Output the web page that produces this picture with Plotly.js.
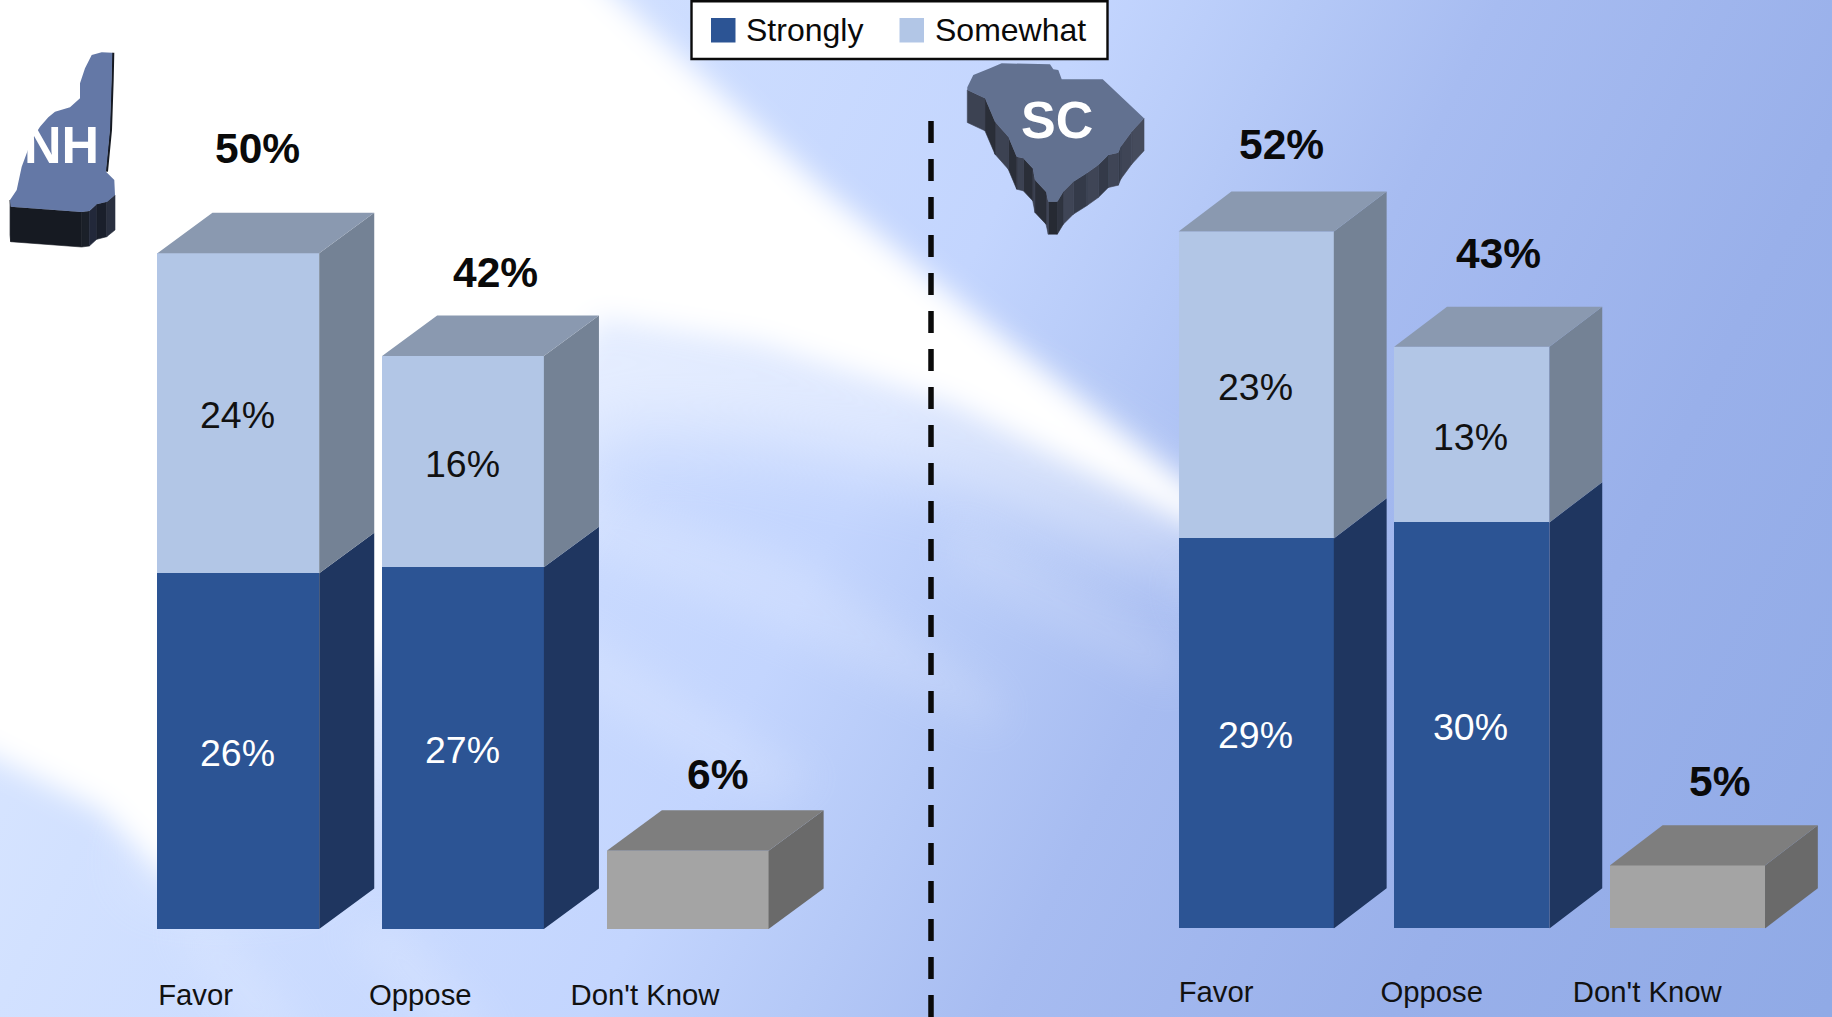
<!DOCTYPE html>
<html>
<head>
<meta charset="utf-8">
<script src="https://cdn.plot.ly/plotly-3.0.1.min.js"></script>
<style>html,body{margin:0;padding:0;overflow:hidden;background:#fff}</style>
</head>
<body>
<div id="chart" style="width:1832px;height:1017px"></div>
<script>
// ---- data ----
const categories = ["Favor", "Oppose", "Don't Know"];
const positions = [0, 1, 2];
const nhStrongly = [26.35, 26.8, null];
const nhSomewhat = [23.7, 15.65, null];
const nhDontKnow = [null, null, 5.8];
const nhTotals = [50, 42, 6];
const scStrongly = [29.1, 30.3, null];
const scSomewhat = [22.9, 13.1, null];
const scDontKnow = [null, null, 4.7];
const scTotals = [52, 43, 5];

// ---- page geometry ----
const W = 1832, H = 1017;
const px = x => x / W;
const py = y => 1 - y / H;

// ---- 3D box sides, computed from the values ----
const barW = 0.72, depthX = 0.245, depthY = 3;
function sidePoly(values, bases) {
  const xs = [], ys = [];
  positions.forEach(i => {
    if (values[i] == null) return;
    const r = i + barW / 2, b = bases[i], t = b + values[i];
    xs.push(r, r + depthX, r + depthX, r, r, null);
    ys.push(b, b + depthY, t + depthY, t, b, null);
  });
  return {x: xs, y: ys};
}
function topPoly(tops) {
  const xs = [], ys = [];
  positions.forEach(i => {
    if (tops[i] == null) return;
    const l = i - barW / 2, r = i + barW / 2, t = tops[i];
    xs.push(l, r, r + depthX, l + depthX, l, null);
    ys.push(t, t, t + depthY, t + depthY, t, null);
  });
  return {x: xs, y: ys};
}
function face(poly, color, xa, ya) {
  return {type: 'scatter', mode: 'lines', x: poly.x, y: poly.y, fill: 'toself', fillcolor: color,
          line: {width: 0, color: color}, hoverinfo: 'skip', showlegend: false, xaxis: xa, yaxis: ya};
}
const FONT = '"Liberation Sans", Arial, sans-serif';
const COL = {strong: '#2c5494', strongSide: '#1f3660', some: '#b2c6e6', someSide: '#748295', someTop: '#8a99b0',
             dk: '#a4a4a4', dkSide: '#6a6a6a', dkTop: '#7e7e7e'};

function panel(strong, some, dk, xa, ya, wid) {
  const zeros = positions.map(() => 0);
  const stackBase = positions.map(i => strong[i] == null ? null : strong[i]);
  const tops = positions.map(i => strong[i] == null ? null : strong[i] + some[i]);
  const bar = (name, y, color) => ({
    type: 'bar', name: name, x: positions, y: y, width: wid, xaxis: xa, yaxis: ya,
    marker: {color: color, line: {width: 0}}, showlegend: false, textposition: 'none'
  });
  return [
    bar('Strongly', strong, COL.strong),
    bar('Somewhat', some, COL.some),
    bar("Don't Know", dk, COL.dk),
    face(sidePoly(strong, zeros), COL.strongSide, xa, ya),
    face(sidePoly(some, stackBase), COL.someSide, xa, ya),
    face(topPoly(tops), COL.someTop, xa, ya),
    face(sidePoly(dk, zeros), COL.dkSide, xa, ya),
    face(topPoly(dk), COL.dkTop, xa, ya)
  ];
}
const traces = [...panel(nhStrongly, nhSomewhat, nhDontKnow, 'x', 'y', barW),
                ...panel(scStrongly, scSomewhat, scDontKnow, 'x2', 'y2', barW)];

// ---- background picture (gradient, light rays, state silhouettes) ----
function z1(p) { return [p[0] / 3, 30 + p[1] / 3]; }      // NH trace coordinates
function z2(p) { return [680 + p[0] / 3, p[1] / 3]; }     // SC trace coordinates
const pts = a => a.map(p => p[0].toFixed(1) + ',' + p[1].toFixed(1)).join(' ');

const nhTop = [[275,75],[305,67],[337,68],[335,150],[330,300],[318,425],[343,450],[345,495],[322,515],[290,523],[268,543],[245,546],[32,530],[30,510],[50,480],[65,410],[80,370],[95,330],[120,290],[145,262],[165,245],[210,232],[240,205],[240,160],[255,115],[265,95]].map(z1);
const nhEdge = [[30,510],[32,530],[245,546],[268,543],[290,523],[320,515],[345,495]].map(z1);
const nhCols = ['#161a22','#161a22','#1b2029','#22283a','#1a1f2b','#2a3040'];
const scTop = [[862,262],[880,225],[930,205],[965,190],[1110,193],[1120,208],[1135,210],[1145,238],[1268,238],[1392,355],[1355,395],[1322,440],[1315,458],[1285,465],[1255,495],[1220,520],[1180,545],[1150,575],[1132,605],[1105,605],[1098,575],[1065,540],[1058,505],[1030,475],[1010,470],[985,410],[945,365],[915,295],[862,270]].map(z2);
const scEdge = scTop.slice(9);
const scCols = ['#454b5c','#3f4556','#343a49','#3f4556','#343a49','#3f4556','#343a49','#3f4556','#2f3440','#262a33','#3f4556','#2a2e38','#3c4252','#2a2e38','#3c4252','#2a2e38','#3c4252','#2a2e38','#3c4252','#262a33'];
function extrude(edge, cols, dy) {
  let s = '';
  for (let i = 0; i < edge.length - 1; i++) {
    const a = edge[i], b = edge[i + 1];
    s += `<polygon points="${pts([a, b, [b[0], b[1] + dy], [a[0], a[1] + dy]])}" fill="${cols[i % cols.length]}" stroke="${cols[i % cols.length]}" stroke-width="0.6"/>`;
  }
  return s;
}
const stops = [[0,'#e2ecff'],[500,'#d2e1ff'],[1100,'#c3d5fe'],[1300,'#b5c9f7'],[1500,'#a7bcf1'],[1900,'#99b0ea'],[2332,'#90aae6']];
const rayMain = [[-120,-120],[500,-120],[620,0],[825,190],[1000,335],[1180,480],[1345,605],[1150,505],[950,405],[760,345],[600,320],[500,480],[300,780],[170,880],[100,810],[-120,700]];
const rayGlow = [[560,280],[800,315],[1050,420],[1280,560],[1150,560],[950,480],[760,440],[600,430],[480,640],[300,880],[130,880]];
const rays = [
  [[560,480],[800,560],[1000,700],[1000,730],[800,640],[560,540]],
  [[560,620],[820,780],[760,800],[560,680]],
  [[950,520],[1180,650],[1180,690],[950,570]],
  [[1180,560],[1350,680],[1350,700],[1180,610]],
  [[170,925],[215,925],[310,1040],[260,1040]],
  [[340,925],[400,925],[500,1040],[440,1040]]
];
const bgSvg = `<svg xmlns="http://www.w3.org/2000/svg" width="${W}" height="${H}" viewBox="0 0 ${W} ${H}">
<defs>
<linearGradient id="g" gradientUnits="userSpaceOnUse" x1="0" y1="0" x2="1865.6" y2="932.8">
${stops.map(s => `<stop offset="${s[0] / 2332}" stop-color="${s[1]}"/>`).join('')}
</linearGradient>
<filter id="b1" x="-20%" y="-20%" width="140%" height="140%"><feGaussianBlur stdDeviation="14"/></filter>
<filter id="b2" x="-30%" y="-30%" width="160%" height="160%"><feGaussianBlur stdDeviation="20"/></filter>
<filter id="b3" x="-30%" y="-30%" width="160%" height="160%"><feGaussianBlur stdDeviation="38"/></filter>
</defs>
<rect width="${W}" height="${H}" fill="url(#g)"/>
<polygon points="${pts(rayGlow)}" fill="#ffffff" opacity="0.5" filter="url(#b3)"/>
<polygon points="${pts(rayMain)}" fill="#ffffff" filter="url(#b1)"/>
${rays.map(r => `<polygon points="${pts(r)}" fill="#ffffff" opacity="0.16" filter="url(#b2)"/>`).join('')}
${extrude(nhEdge, nhCols, 35)}
<polyline points="${pts([[337,68],[335,150],[330,300],[318,425]].map(z1))}" fill="none" stroke="#161a22" stroke-width="2.4" transform="translate(0.8,0)"/>
<polygon points="${pts(nhTop)}" fill="#6478a6"/>
${extrude(scEdge, scCols, 32.5)}
<polygon points="${pts(scTop)}" fill="#627190"/>
</svg>`;
const bgURI = 'data:image/svg+xml;charset=utf-8,' + encodeURIComponent(bgSvg);

// ---- annotations ----
function totals(arr, strong, some, dk, dx, dy, xr, yr) {
  return positions.map(i => ({
    xref: xr, yref: yr, x: i + dx[i],
    y: (strong[i] == null ? dk[i] : strong[i] + some[i]) + dy[i],
    text: arr[i] + '%', showarrow: false, xanchor: 'center', yanchor: 'middle',
    font: {family: FONT, size: 42.5, color: '#0a0a0a', weight: 700}
  }));
}
function innerLabels(values, bases, color, xr, yr) {
  return positions.filter(i => values[i] != null).map(i => ({
    xref: xr, yref: yr, x: i - 0.004, y: bases[i] + values[i] / 2, yshift: -2,
    text: Math.round(values[i]) + '%', showarrow: false, xanchor: 'center', yanchor: 'middle',
    font: {family: FONT, size: 37.5, color: color}
  }));
}
const paperText = (x, y, text, size, color, anchor, bold) => ({
  xref: 'paper', yref: 'paper', x: px(x), y: py(y), text: text, showarrow: false,
  xanchor: anchor, yanchor: 'middle', font: {family: FONT, size: size, color: color, weight: bold ? 700 : 400}
});
const annotations = [
  ...totals(nhTotals, nhStrongly, nhSomewhat, nhDontKnow, [0.086, 0.146, 0.133], [7.78, 6.15, 5.62], 'x', 'y'),
  ...totals(scTotals, scStrongly, scSomewhat, scDontKnow, [0.116, 0.125, 0.148], [6.48, 6.94, 6.25], 'x2', 'y2'),
  ...innerLabels(nhStrongly, positions.map(() => 0), '#ffffff', 'x', 'y'),
  ...innerLabels(nhSomewhat, nhStrongly, '#111111', 'x', 'y'),
  ...innerLabels(scStrongly, positions.map(() => 0), '#ffffff', 'x2', 'y2'),
  ...innerLabels(scSomewhat, scStrongly, '#111111', 'x2', 'y2'),
  paperText(61.5, 145, 'NH', 52, '#ffffff', 'center', true),
  paperText(1057, 120.5, 'SC', 52, '#ffffff', 'center', true),
  paperText(744, 30.5, 'Strongly', 32, '#0a0a0a', 'left', false),
  paperText(933, 30.5, 'Somewhat', 32, '#0a0a0a', 'left', false)
];

// ---- legend box and divider ----
const rectP = (x0, y0, x1, y1, fill, lineColor, lw) => ({
  type: 'rect', xref: 'paper', yref: 'paper', x0: px(x0), x1: px(x1), y0: py(y1), y1: py(y0),
  fillcolor: fill, line: {color: lineColor, width: lw}, layer: 'above'
});
const shapes = [
  {type: 'line', xref: 'paper', yref: 'paper', x0: px(931), x1: px(931), y0: py(121), y1: py(1017),
   line: {color: '#0a0a0a', width: 5.5, dash: '22px,16px'}, layer: 'above'},
  rectP(691.5, 1.2, 1107.5, 59, '#ffffff', '#0a0a0a', 2.4),
  rectP(711, 18, 735.5, 42.5, COL.strong, COL.strong, 0),
  rectP(899.5, 18, 924, 42.5, COL.some, COL.some, 0)
];

// ---- axes ----
const axisFont = {family: FONT, size: 29.3, color: '#111111'};
const xAxis = (domain, center, step, labelShift, standoff) => ({
  domain: domain,
  range: [(domain[0] * W - center) / step, (domain[1] * W - center) / step],
  tickmode: 'array', tickvals: positions.map(i => i + labelShift), ticktext: categories,
  showgrid: false, zeroline: false, showline: false, ticks: '', ticklen: 0,
  tickfont: axisFont, tickangle: 0, ticklabelstandoff: standoff, fixedrange: true
});
const yAxis = (anchor, baseline, perUnit) => ({
  anchor: anchor, domain: [(H - baseline) / H, 1], range: [0, baseline / perUnit],
  visible: false, showgrid: false, zeroline: false, fixedrange: true
});

const layout = {
  width: W, height: H, margin: {l: 0, r: 0, t: 0, b: 0, pad: 0},
  paper_bgcolor: '#ffffff', plot_bgcolor: 'rgba(0,0,0,0)',
  barmode: 'stack', showlegend: false, hovermode: false,
  font: {family: FONT},
  xaxis: xAxis([0, 0.5], 238.3, 224.7, -0.19, 46),
  yaxis: yAxis('x', 929, 13.5),
  xaxis2: xAxis([0.5, 1], 1256.2, 215.6, -0.186, 43),
  yaxis2: yAxis('x2', 928.4, 13.4),
  images: [{source: bgURI, xref: 'paper', yref: 'paper', x: 0, y: 1, sizex: 1, sizey: 1,
            sizing: 'stretch', xanchor: 'left', yanchor: 'top', layer: 'below'}],
  shapes: shapes, annotations: annotations
};
Plotly.newPlot('chart', traces, layout, {displayModeBar: false, responsive: false});
</script>
</body>
</html>
